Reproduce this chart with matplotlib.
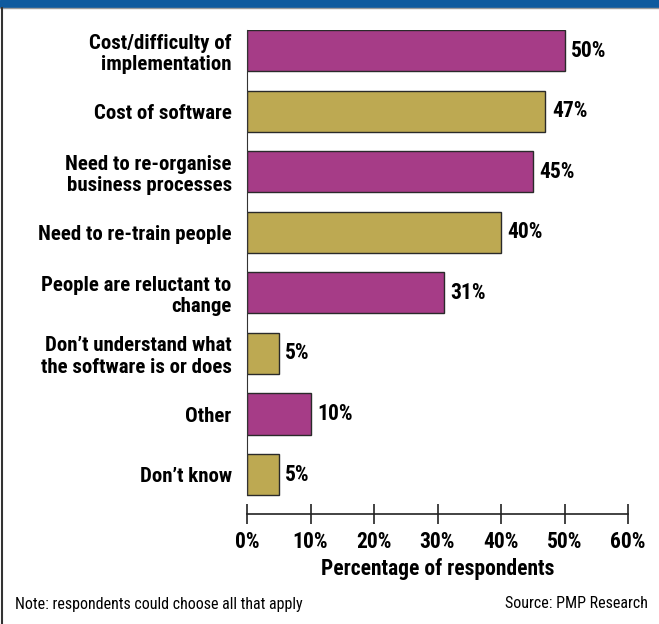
import matplotlib.pyplot as plt
from matplotlib.patches import Rectangle
from matplotlib.lines import Line2D

# survey answers, top to bottom
reasons = [
    "Cost/difficulty of\nimplementation",
    "Cost of software",
    "Need to re-organise\nbusiness processes",
    "Need to re-train people",
    "People are reluctant to\nchange",
    "Don\u2019t understand what\nthe software is or does",
    "Other",
    "Don\u2019t know",
]
percent = [50, 47, 45, 40, 31, 5, 10, 5]
x_ticks = [0, 10, 20, 30, 40, 50, 60]

magenta = "#A63C87"
gold = "#BDA952"
bar_colors = [magenta if i % 2 == 0 else gold for i in range(len(reasons))]

plt.rcParams['font.family'] = ['Roboto Condensed', 'Liberation Sans Narrow', 'DejaVu Sans']
plt.rcParams['font.stretch'] = 'condensed'

W, H = 659, 624
fig = plt.figure(figsize=(W / 100, H / 100), dpi=100)

# header band and frame
fig.patches.append(Rectangle((0, 1 - 7 / H), 1, 7 / H, transform=fig.transFigure,
                             color="#0E5A9E", zorder=0))
fig.lines.append(Line2D([0, 1], [1 - 8 / H, 1 - 8 / H], transform=fig.transFigure,
                        color="#9a9a9a", lw=1))
fig.lines.append(Line2D([1.5 / W, 1.5 / W], [0, 1 - 8 / H], transform=fig.transFigure,
                        color="#333333", lw=1.5))

ax_left, ax_right = 247 / W, 628 / W
ax_top, ax_bottom = 1 - 30 / H, 1 - 514 / H
ax = fig.add_axes([ax_left, ax_bottom, ax_right - ax_left, ax_top - ax_bottom])

bar_h = 0.68
pos = list(range(len(reasons)))
ax.barh(pos, percent, height=bar_h, color=bar_colors, edgecolor="#2a2a2a", linewidth=1)

for p, v in zip(pos, percent):
    ax.text(v + 1.0, p, f"{v}%", va="center", ha="left", fontsize=15.5, fontweight="bold")

ax.set_xlim(0, 60)
ax.set_ylim(len(reasons) - 1 + 0.65, -bar_h / 2)
ax.set_yticks(pos)
ax.set_yticklabels(reasons, fontsize=15, fontweight="bold", linespacing=1.15)
ax.tick_params(axis="y", length=0, pad=11)

ax.set_xticks(x_ticks)
ax.set_xticklabels([f"{t}%" for t in x_ticks], fontsize=15.5, fontweight="bold")
ax.tick_params(axis="x", direction="inout", length=14, width=1.2, pad=5, color="#222222")
ax.set_xlabel("Percentage of respondents", fontsize=15.5, fontweight="bold", labelpad=4)

for side in ["top", "right"]:
    ax.spines[side].set_visible(False)
ax.spines["left"].set_bounds(-bar_h / 2, len(reasons) - 1 + bar_h / 2)
ax.spines["left"].set_color("#333333")
ax.spines["bottom"].set_color("#222222")
ax.spines["bottom"].set_linewidth(1.2)

fig.text(15 / W, 1 - 604 / H, "Note: respondents could choose all that apply",
         fontsize=11.5, va="center", ha="left")
fig.text(648 / W, 1 - 604 / H, "Source: PMP Research",
         fontsize=11.5, va="center", ha="right")

fig.savefig("out.png", dpi=100)
